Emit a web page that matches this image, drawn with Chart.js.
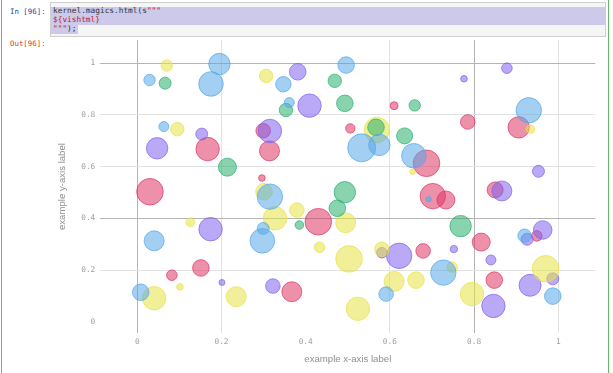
<!DOCTYPE html>
<html lang="en">
<head>
    <meta charset="UTF-8">
    <title>Bubble chart</title>
    <script src="https://cdn.jsdelivr.net/npm/chart.js"></script>
    <style>
        body {
            margin: 0;
            background: #fff;
            width: 613px;
            height: 373px;
            overflow: hidden;
            position: relative;
            font-family: "DejaVu Sans Mono", monospace;
        }
        .cell {
            position: absolute;
            left: 1px;
            top: -5px;
            width: 606px;
            height: 390px;
            border: 1px solid #66bb6a;
        }
        .prompt {
            position: absolute;
            left: 10px;
            font-size: 7.4px;
        }
        .input {
            position: absolute;
            left: 50px;
            top: 2px;
            width: 554px;
            height: 33px;
            background: #f5f5f5;
            border: 1px solid #cfcfcf;
        }
        .sel {
            position: absolute;
            background: #cdc9eb;
        }
        .code {
            position: absolute;
            left: 2px;
            font-size: 7.8px;
            white-space: pre;
            color: #333;
        }
        .str { color: #ba2121; }
        canvas {
            position: absolute;
            left: 0;
            top: 0;
        }
    </style>
</head>
<body>
    <div class="cell"></div>
    <div class="prompt" style="top:7px;color:#303f9f">In [96]:</div>
    <div class="input">
        <div class="sel" style="left:0;top:4px;width:554px;height:18px"></div>
        <div class="sel" style="left:0;top:22px;width:27px;height:9px"></div>
        <div class="code" style="top:3px">kernel.magics.html(s<span class="str">"""</span></div>
        <div class="code" style="top:12px"><span class="str">${vishtml}</span></div>
        <div class="code" style="top:21px"><span class="str">"""</span>);</div>
    </div>
    <div class="prompt" style="top:39px;color:#d84315">Out[96]:</div>

    <canvas id="grafico" width="613" height="373"></canvas>

    <script>
        const xTicks = [0, 0.2, 0.4, 0.6, 0.8, 1];
        const yTicks = [0, 0.2, 0.4, 0.6, 0.8, 1];

        // each bubble: x, y, radius
        const blueBubbles = [
            {x: 0.029, y: 0.935, r: 5.7}, {x: 0.195, y: 0.997, r: 10.7}, {x: 0.175, y: 0.920, r: 12.3},
            {x: 0.347, y: 0.919, r: 7.7}, {x: 0.361, y: 0.848, r: 5}, {x: 0.063, y: 0.755, r: 5},
            {x: 0.315, y: 0.484, r: 12.7}, {x: 0.496, y: 0.993, r: 8.3}, {x: 0.930, y: 0.818, r: 12.7},
            {x: 0.533, y: 0.673, r: 14}, {x: 0.575, y: 0.684, r: 10.7}, {x: 0.657, y: 0.642, r: 12.3},
            {x: 0.692, y: 0.474, r: 2.7}, {x: 0.040, y: 0.313, r: 10}, {x: 0.299, y: 0.361, r: 6},
            {x: 0.297, y: 0.313, r: 12.3}, {x: 0.008, y: 0.114, r: 8.3}, {x: 0.727, y: 0.190, r: 12.7},
            {x: 0.591, y: 0.107, r: 7.3}, {x: 0.920, y: 0.333, r: 6.7}, {x: 0.987, y: 0.099, r: 8.3}
        ];
        const greenBubbles = [
            {x: 0.066, y: 0.923, r: 6}, {x: 0.353, y: 0.819, r: 6.7}, {x: 0.469, y: 0.932, r: 6.7},
            {x: 0.214, y: 0.598, r: 9}, {x: 0.493, y: 0.845, r: 8.3}, {x: 0.659, y: 0.837, r: 5.7},
            {x: 0.567, y: 0.752, r: 8.3}, {x: 0.635, y: 0.719, r: 8}, {x: 0.493, y: 0.501, r: 10.7},
            {x: 0.475, y: 0.439, r: 8.3}, {x: 0.385, y: 0.374, r: 4.3}, {x: 0.768, y: 0.370, r: 10.7}
        ];
        const yellowBubbles = [
            {x: 0.070, y: 0.991, r: 5.7}, {x: 0.095, y: 0.745, r: 6.7}, {x: 0.306, y: 0.951, r: 6.7},
            {x: 0.301, y: 0.503, r: 8.3}, {x: 0.569, y: 0.742, r: 12.7}, {x: 0.934, y: 0.745, r: 4.3},
            {x: 0.654, y: 0.580, r: 2.7}, {x: 0.379, y: 0.432, r: 7.3}, {x: 0.327, y: 0.400, r: 11.7},
            {x: 0.433, y: 0.288, r: 5.3}, {x: 0.126, y: 0.385, r: 4.3}, {x: 0.101, y: 0.135, r: 3.3},
            {x: 0.040, y: 0.091, r: 11.7}, {x: 0.235, y: 0.097, r: 10}, {x: 0.495, y: 0.383, r: 10},
            {x: 0.503, y: 0.243, r: 13.3}, {x: 0.581, y: 0.280, r: 7.3}, {x: 0.748, y: 0.211, r: 5.3},
            {x: 0.610, y: 0.156, r: 10}, {x: 0.662, y: 0.161, r: 8.3}, {x: 0.524, y: 0.050, r: 11.7},
            {x: 0.795, y: 0.107, r: 11.7}, {x: 0.970, y: 0.205, r: 13.3}
        ];
        const purpleBubbles = [
            {x: 0.381, y: 0.967, r: 8.3}, {x: 0.409, y: 0.836, r: 11.7}, {x: 0.153, y: 0.726, r: 6},
            {x: 0.047, y: 0.671, r: 10.7}, {x: 0.315, y: 0.738, r: 11.7}, {x: 0.776, y: 0.940, r: 3.3},
            {x: 0.878, y: 0.981, r: 5.3}, {x: 0.953, y: 0.582, r: 6}, {x: 0.866, y: 0.506, r: 10},
            {x: 0.174, y: 0.358, r: 11.7}, {x: 0.201, y: 0.152, r: 3}, {x: 0.322, y: 0.138, r: 7.3},
            {x: 0.581, y: 0.267, r: 5.3}, {x: 0.622, y: 0.255, r: 12.7}, {x: 0.752, y: 0.281, r: 3.7},
            {x: 0.840, y: 0.239, r: 5}, {x: 0.846, y: 0.061, r: 11.7}, {x: 0.926, y: 0.319, r: 6},
            {x: 0.963, y: 0.355, r: 9.3}, {x: 0.987, y: 0.166, r: 6}, {x: 0.933, y: 0.141, r: 11}
        ];
        const redBubbles = [
            {x: 0.167, y: 0.668, r: 11.7}, {x: 0.299, y: 0.739, r: 7.3}, {x: 0.314, y: 0.661, r: 10},
            {x: 0.296, y: 0.556, r: 3.3}, {x: 0.030, y: 0.503, r: 13.3}, {x: 0.610, y: 0.836, r: 4},
            {x: 0.785, y: 0.773, r: 7.3}, {x: 0.906, y: 0.752, r: 10.7}, {x: 0.506, y: 0.748, r: 4.7},
            {x: 0.687, y: 0.613, r: 13.3}, {x: 0.702, y: 0.486, r: 12.7}, {x: 0.733, y: 0.471, r: 9},
            {x: 0.850, y: 0.510, r: 8}, {x: 0.430, y: 0.387, r: 13.3}, {x: 0.082, y: 0.180, r: 5.3},
            {x: 0.151, y: 0.208, r: 8.3}, {x: 0.367, y: 0.116, r: 10}, {x: 0.679, y: 0.274, r: 7.3},
            {x: 0.817, y: 0.308, r: 9}, {x: 0.848, y: 0.161, r: 8.3}, {x: 0.949, y: 0.332, r: 5.3}
        ];

        function serie(nombre, datos, rgb) {
            return {
                label: nombre,
                data: datos,
                backgroundColor: 'rgba(' + rgb + ',0.55)',
                borderColor: 'rgba(' + rgb + ',0.7)',
                borderWidth: 1
            };
        }

        // darker / lighter / missing grid lines as in the screenshot
        function colorX(ctx) {
            const v = Math.round(ctx.tick.value * 10);
            if (v === 4) return 'rgba(0,0,0,0)';
            if (v === 0 || v === 8) return '#b4b4b4';
            return '#e2e2e2';
        }
        function colorY(ctx) {
            const v = Math.round(ctx.tick.value * 10);
            if (v === 0) return 'rgba(0,0,0,0)';
            if (v === 10 || v === 4) return '#b4b4b4';
            return '#e2e2e2';
        }

        const fuenteTicks = {family: "'DejaVu Sans Mono', monospace", size: 7.8};
        const fuenteTitulo = {family: "'Liberation Sans', Arial, sans-serif", size: 9.6};
        const etiqueta = v => String(Math.round(v * 100) / 100);

        new Chart(document.getElementById('grafico').getContext('2d'), {
            type: 'bubble',
            data: {
                datasets: [
                    serie('blue', blueBubbles, '86,168,232'),
                    serie('green', greenBubbles, '40,175,110'),
                    serie('yellow', yellowBubbles, '232,225,70'),
                    serie('purple', purpleBubbles, '128,98,238'),
                    serie('red', redBubbles, '222,52,100')
                ]
            },
            options: {
                responsive: false,
                animation: false,
                layout: {padding: {left: 50, right: 17.7, top: 40, bottom: 0}},
                plugins: {legend: {display: false}, tooltip: {enabled: false}},
                scales: {
                    x: {
                        type: 'linear',
                        min: -0.088,
                        max: 1.088,
                        afterBuildTicks: s => { s.ticks = xTicks.map(v => ({value: v})); },
                        afterFit: s => { s.height = 39.9; },
                        border: {display: false},
                        grid: {color: colorX, drawTicks: false, lineWidth: 1},
                        ticks: {padding: 4, color: '#a0a0a0', font: fuenteTicks, callback: etiqueta},
                        title: {display: true, text: 'example x-axis label', color: '#8f8f8f',
                                font: fuenteTitulo, padding: {bottom: 8.3, top: 0}}
                    },
                    y: {
                        type: 'linear',
                        min: -0.044,
                        max: 1.09,
                        afterBuildTicks: s => { s.ticks = yTicks.map(v => ({value: v})); },
                        afterFit: s => { s.width = 50.3; },
                        border: {display: false},
                        grid: {color: colorY, drawTicks: false, lineWidth: 1},
                        ticks: {padding: 5, color: '#a0a0a0', font: fuenteTicks, callback: etiqueta},
                        title: {display: true, text: 'example y-axis label', color: '#8f8f8f',
                                font: fuenteTitulo, padding: {top: 6.3, bottom: 0}}
                    }
                }
            }
        });
    </script>
</body>
</html>
